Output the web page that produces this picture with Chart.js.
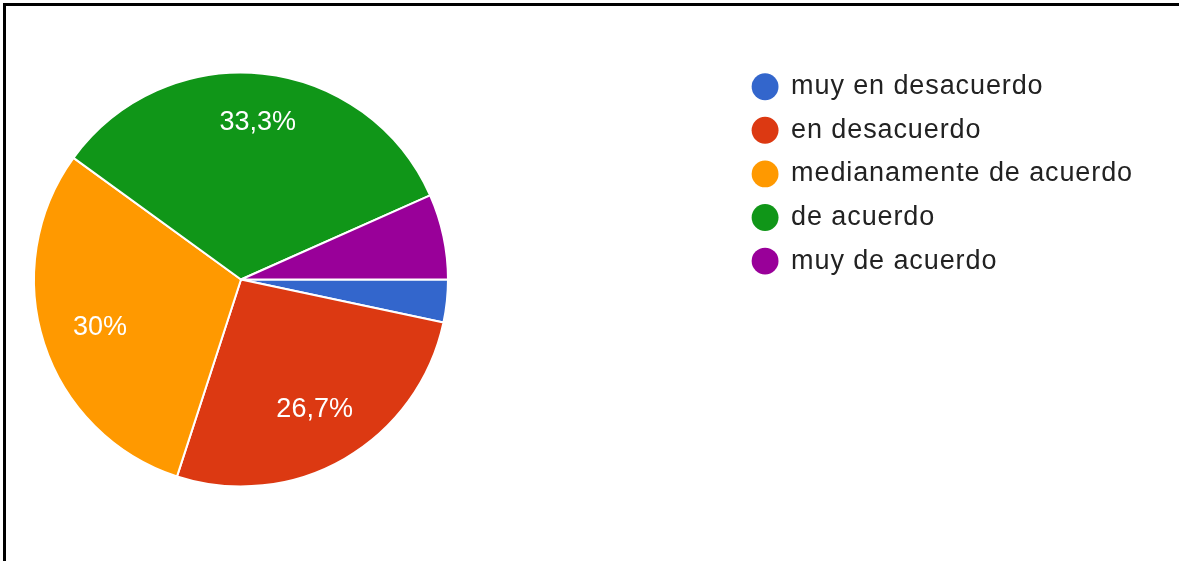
<!DOCTYPE html>
<html>
<head>
<meta charset="utf-8">
<script src="https://cdn.jsdelivr.net/npm/chart.js@4"></script>
<style>
  html, body { margin: 0; padding: 0; background: #fff; }
  #frame { position: relative; width: 1179px; height: 561px; overflow: hidden; background: #fff; }
  #edge { position: absolute; left: 3px; top: 3px; right: 0; bottom: 0;
          border-top: 3px solid #000; border-left: 3px solid #000; pointer-events: none; }
  #pie { position: absolute; top: 0; }
</style>
</head>
<body>
<div id="frame"><canvas id="pie"></canvas><div id="edge"></div></div>
<script>
// Survey answers (number of responses per option)
const categories = ['muy en desacuerdo', 'en desacuerdo', 'medianamente de acuerdo', 'de acuerdo', 'muy de acuerdo'];
const responses = [1, 8, 9, 10, 2];
const sliceColors = ['#3366cc', '#dc3912', '#ff9900', '#109618', '#990099'];

// Look and layout
const FAMILY = '"Liberation Sans", Arial, sans-serif';
const FONT_SIZE = 27;
const LEGEND_SPACING = '0.9px'; // letter spacing of the legend text
const LEGEND_PAD = 16.6;        // vertical gap between legend rows
const BOX_W = 25;               // legend marker slot width
const PIE_CX = 241, PIE_CY = 279.5, PIE_R = 207;
const LEGEND_LEFT = 735.9;      // left edge of the legend block
const MIN_LABEL_PCT = 10;       // smaller slices get no inline label

function pctText(v, total) {
  const p = Math.round(v / total * 1000) / 10;
  return String(p).replace('.', ',') + '%';
}

// Size the canvas so that the pie centre and the legend land where wanted.
const probe = document.createElement('canvas').getContext('2d');
probe.font = FONT_SIZE + 'px ' + FAMILY;
probe.letterSpacing = LEGEND_SPACING;
const maxText = Math.max(...categories.map(t => probe.measureText(t).width));
const legendWidth = LEGEND_PAD + (BOX_W + FONT_SIZE / 2 + maxText) + 10;
const offsetX = 2 * PIE_CX - LEGEND_LEFT;               // chart area left (page coords)
const canvasW = Math.ceil(LEGEND_LEFT - offsetX + legendWidth);
const legendTop = 86.7 - FONT_SIZE / 2 - LEGEND_PAD;
const areaBottom = 2 * PIE_CY - legendTop;

const canvas = document.getElementById('pie');
canvas.width = canvasW + 4;
canvas.height = 561;
canvas.style.left = offsetX + 'px';

// legend text is drawn with a little extra tracking
const legendTracking = {
  id: 'legendTracking',
  beforeLayout(chart) { chart.ctx.letterSpacing = LEGEND_SPACING; },
  beforeDraw(chart) { chart.ctx.letterSpacing = LEGEND_SPACING; }
};

const sliceLabels = {
  id: 'sliceLabels',
  afterDatasetsDraw(chart) {
    const ctx = chart.ctx;
    const meta = chart.getDatasetMeta(0);
    const total = responses.reduce((a, b) => a + b, 0);
    ctx.save();
    ctx.letterSpacing = '0px';
    ctx.font = FONT_SIZE + 'px ' + FAMILY;
    ctx.fillStyle = '#ffffff';
    ctx.textAlign = 'center';
    ctx.textBaseline = 'alphabetic';
    meta.data.forEach((arc, i) => {
      const pct = responses[i] / total * 100;
      if (pct < MIN_LABEL_PCT) return;
      const {x, y, startAngle, endAngle, outerRadius} =
        arc.getProps(['x', 'y', 'startAngle', 'endAngle', 'outerRadius'], true);
      const mid = (startAngle + endAngle) / 2;
      const ux = Math.cos(mid), uy = Math.sin(mid);
      const text = pctText(responses[i], total);
      const m = ctx.measureText(text);
      const w = m.width, h = m.actualBoundingBoxAscent;
      // push the label out until its far corner touches 85% of the radius
      const R = outerRadius * 0.855;
      const b = Math.abs(ux) * w + Math.abs(uy) * h;
      const c = (w * w + h * h) / 4 - R * R;
      const d = (-b + Math.sqrt(b * b - 4 * c)) / 2;
      ctx.fillText(text, x + ux * d, y + uy * d + h / 2);
    });
    ctx.restore();
  }
};

new Chart(canvas, {
  type: 'pie',
  data: {
    labels: categories,
    datasets: [{
      data: responses,
      backgroundColor: sliceColors,
      borderColor: '#ffffff',
      borderWidth: 2,
      radius: PIE_R
    }]
  },
  options: {
    responsive: false,
    animation: false,
    events: [],
    rotation: 90,
    layout: {
      padding: { left: 0, right: 4, top: legendTop, bottom: 561 - areaBottom }
    },
    plugins: {
      tooltip: { enabled: false },
      legend: {
        position: 'right',
        align: 'start',
        labels: {
          usePointStyle: true,
          pointStyle: 'circle',
          boxWidth: BOX_W,
          boxHeight: 19,
          padding: LEGEND_PAD,
          color: '#222222',
          font: { family: FAMILY, size: FONT_SIZE },
          generateLabels(chart) {
            return Chart.overrides.pie.plugins.legend.labels.generateLabels(chart)
              .map(item => Object.assign(item, { lineWidth: 0, pointStyle: 'circle' }));
          }
        }
      }
    }
  },
  plugins: [legendTracking, sliceLabels]
});
</script>
</body>
</html>
